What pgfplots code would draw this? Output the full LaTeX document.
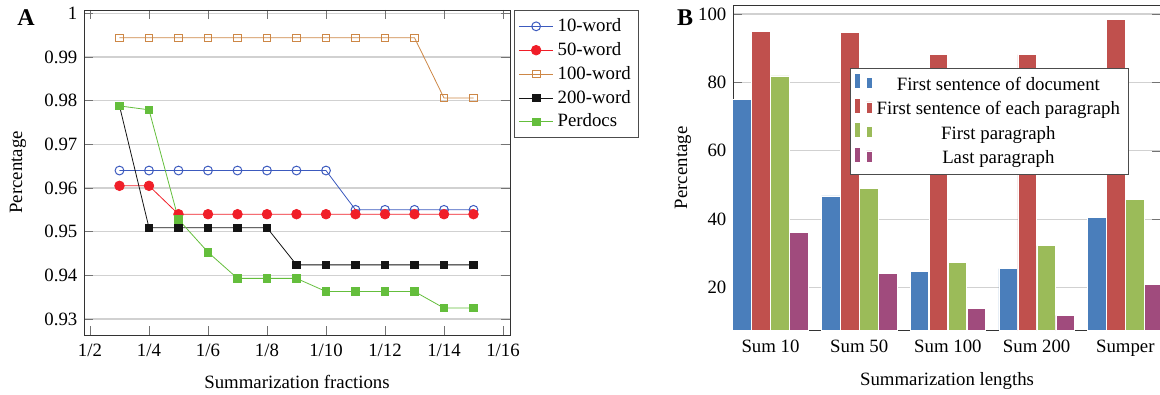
\documentclass[border=0pt]{standalone}
\usepackage{fontspec}
\setmainfont{Liberation Serif}
\usepackage{pgfplots}
\pgfplotsset{compat=1.18}
\definecolor{c10}{RGB}{60,90,190}
\definecolor{c50}{RGB}{240,30,40}
\definecolor{c100}{RGB}{205,135,70}
\definecolor{c200}{RGB}{20,20,20}
\definecolor{cper}{RGB}{100,190,60}
\definecolor{bblue}{RGB}{74,126,187}
\definecolor{bred}{RGB}{192,80,77}
\definecolor{bgreen}{RGB}{155,187,89}
\definecolor{bpurp}{RGB}{160,75,125}
\begin{document}
\fontsize{9.4}{11}\selectfont
\begin{tikzpicture}
\path[use as bounding box] (0,0) rectangle (580pt,197.5pt);
\node[font=\fontsize{12}{13}\selectfont\bfseries] at (13pt,188.5pt) {A};
\node[font=\fontsize{12}{13}\selectfont\bfseries] at (342.5pt,188.5pt) {B};
\begin{axis}[scale only axis, width=213pt, height=162.5pt, at={(42pt,30pt)}, anchor=south west,
  xmin=1.797, xmax=16.237, ymin=0.92634, ymax=1.00076,
  xtick={2,4,6,8,10,12,14,16}, xticklabels={1/2,1/4,1/6,1/8,1/10,1/12,1/14,1/16},
  ytick={0.93,0.94,0.95,0.96,0.97,0.98,0.99,1},
  ymajorgrids, grid style={black!18, line width=0.6pt},
  tick style={black!55}, axis line style={black!80},
  /pgf/number format/assume math mode=true,
  yticklabel style={/pgf/number format/fixed, /pgf/number format/precision=2},
  xticklabel style={yshift=-1pt},
  xlabel={Summarization fractions}, ylabel={Percentage},
  xlabel style={at={(axis description cs:0.5,0)}, anchor=center, yshift=-23.3pt},
  ylabel style={at={(axis description cs:-0.155,0.5)}, anchor=center},
  legend style={at={(axis description cs:1.01,1)}, anchor=north west, draw=black!70, row sep=0pt, inner sep=2pt},
  legend cell align=left,
]
\addplot[color=c10, mark=o, mark size=2.2pt, mark options={line width=0.5pt}] coordinates {(3,0.964) (4,0.964) (5,0.964) (6,0.964) (7,0.964) (8,0.964) (9,0.964) (10,0.964) (11,0.955) (12,0.955) (13,0.955) (14,0.955) (15,0.955)};
\addlegendentry{10-word}
\addplot[color=c50, mark=*, mark size=2.4pt] coordinates {(3,0.9605) (4,0.9605) (5,0.954) (6,0.954) (7,0.954) (8,0.954) (9,0.954) (10,0.954) (11,0.954) (12,0.954) (13,0.954) (14,0.954) (15,0.954)};
\addlegendentry{50-word}
\addplot[color=c100, mark=square, mark size=1.9pt] coordinates {(3,0.9944) (4,0.9944) (5,0.9944) (6,0.9944) (7,0.9944) (8,0.9944) (9,0.9944) (10,0.9944) (11,0.9944) (12,0.9944) (13,0.9944) (14,0.9806) (15,0.9806)};
\addlegendentry{100-word}
\addplot[color=c200, mark=square*, mark size=1.9pt] coordinates {(3,0.9788) (4,0.9509) (5,0.9509) (6,0.9509) (7,0.9509) (8,0.9509) (9,0.9424) (10,0.9424) (11,0.9424) (12,0.9424) (13,0.9424) (14,0.9424) (15,0.9424)};
\addlegendentry{200-word}
\addplot[color=cper, mark=square*, mark size=1.9pt] coordinates {(3,0.9788) (4,0.9779) (5,0.9528) (6,0.9453) (7,0.9393) (8,0.9393) (9,0.9393) (10,0.9363) (11,0.9363) (12,0.9363) (13,0.9363) (14,0.9325) (15,0.9325)};
\addlegendentry{Perdocs}
\end{axis}
\begin{axis}[scale only axis, width=214pt, height=162.85pt, at={(366.5pt,32.15pt)}, anchor=south west,
  ybar=0.3pt, bar width=9.2pt,
  xmin=-0.4228, xmax=4.402, ymin=7.43, ymax=102.63,
  xtick={0,1,2,3,4}, xticklabels={Sum 10,Sum 50,Sum 100,Sum 200,Sumper},
  xtick style={draw=none},
  xticklabel style={yshift=3pt},
  ytick={20,40,60,80,100},
  ymajorgrids, grid style={black!18, line width=0.6pt},
  tick style={black!55}, axis line style={black!80},
  /pgf/number format/assume math mode=true,
  xlabel={Summarization lengths}, ylabel={Percentage},
  xlabel style={at={(axis description cs:0.5,0)}, anchor=center, yshift=-25.2pt},
  ylabel style={at={(axis description cs:-0.117,0.5)}, anchor=center},
  legend style={at={(axis description cs:0.598,0.642)}, anchor=center, draw=black!70, row sep=0.3pt, inner sep=2pt},
  legend cell align=center,
]
\addplot[fill=bblue, draw=white, line width=0.4pt] coordinates {(0,75.1) (1,46.8) (2,24.8) (3,25.6) (4,40.6)};
\addlegendentry{First sentence of document}
\addplot[fill=bred, draw=white, line width=0.4pt] coordinates {(0,94.9) (1,94.6) (2,88.3) (3,88.1) (4,98.4)};
\addlegendentry{First sentence of each paragraph}
\addplot[fill=bgreen, draw=white, line width=0.4pt] coordinates {(0,81.9) (1,48.9) (2,27.5) (3,32.3) (4,45.9)};
\addlegendentry{First paragraph}
\addplot[fill=bpurp, draw=white, line width=0.4pt] coordinates {(0,36.2) (1,24.2) (2,14.0) (3,11.9) (4,21.0)};
\addlegendentry{Last paragraph}
\end{axis}
\end{tikzpicture}
\end{document}
